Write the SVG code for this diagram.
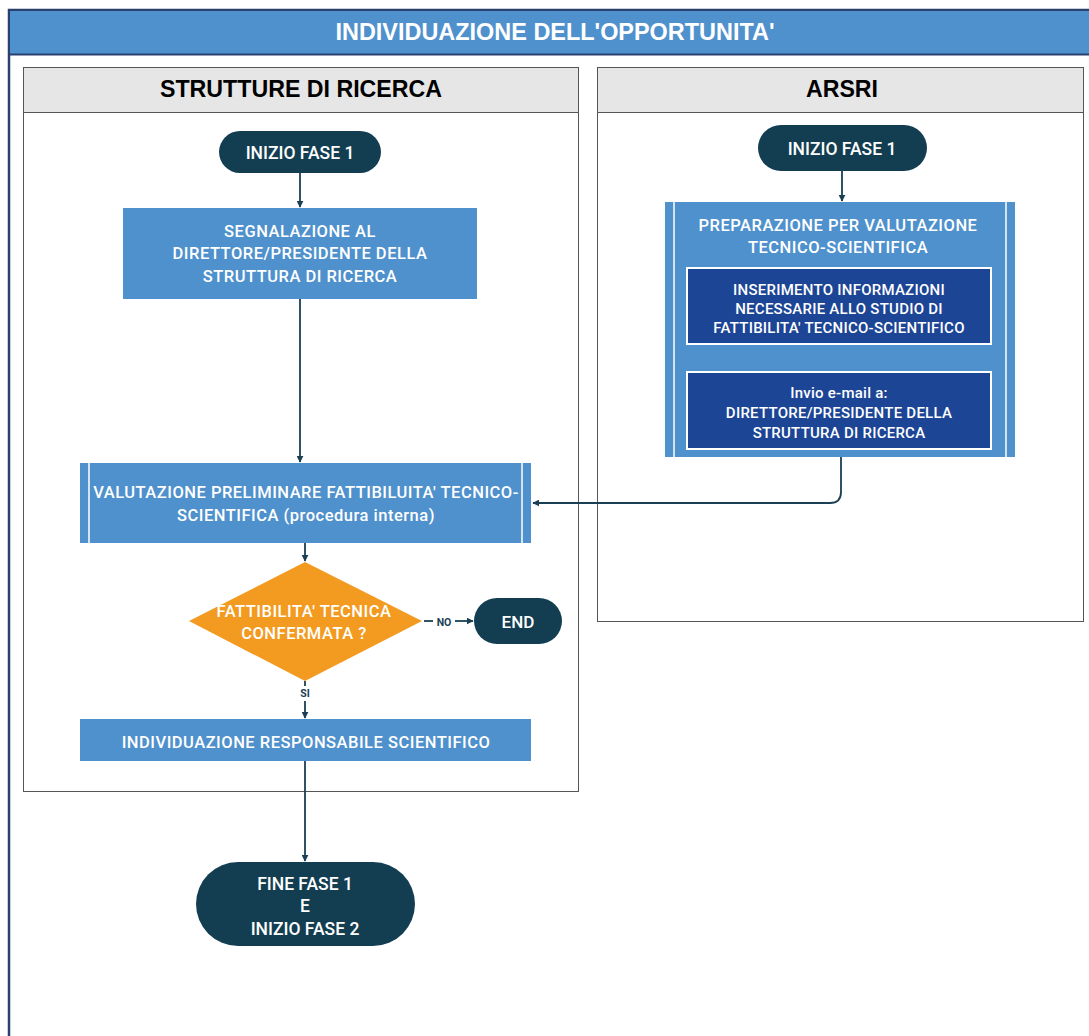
<svg xmlns="http://www.w3.org/2000/svg" width="1089" height="1036" viewBox="0 0 1089 1036">
<style>
.t{font-family:Roboto,"Liberation Sans",sans-serif;font-weight:500;fill:#fff;text-anchor:middle}
.b{font-size:16.5px;letter-spacing:0.5px}
.p{font-size:17.5px}
.i{font-size:15px;letter-spacing:0.25px}
.h{font-family:"Liberation Sans Narrow","Liberation Sans",Arial,sans-serif;font-weight:bold;text-anchor:middle}
.c{fill:none;stroke:#1b3f55;stroke-width:1.8}
.pill{fill:#133e52}
.box{fill:#4f91cc}
.inner{fill:#1c4596;stroke:#fff;stroke-width:2}
.lbl{font-family:Roboto,"Liberation Sans",sans-serif;font-weight:bold;font-size:10.5px;fill:#1b3f55;text-anchor:middle}
</style>
<defs>
<marker id="ah" viewBox="0 0 10 10" refX="9" refY="5" markerWidth="7" markerHeight="7" orient="auto" markerUnits="userSpaceOnUse"><path d="M0,0 L10,5 L0,10 z" fill="#1b3f55"/></marker>
</defs>
<rect width="1089" height="1036" fill="#fff"/>
<g id="frame">
<rect x="9" y="10" width="1090" height="1040" fill="#fff" stroke="#2a4170" stroke-width="2.5"/>
<rect x="10" y="11" width="1085" height="43" fill="#4f91cc"/>
<line x1="9" y1="54.5" x2="1089" y2="54.5" stroke="#2a4170" stroke-width="2"/>
<text class="h" x="555" y="39.5" font-size="23" fill="#fff" textLength="439" lengthAdjust="spacingAndGlyphs">INDIVIDUAZIONE DELL'OPPORTUNITA'</text>
</g>
<g id="lane1">
<rect x="23.5" y="67.5" width="555" height="724" fill="#fff" stroke="#555" stroke-width="1"/>
<rect x="23.5" y="67.5" width="555" height="45" fill="#e6e6e6" stroke="#555" stroke-width="1"/>
<text class="h" x="301" y="97" font-size="23" fill="#000" textLength="282" lengthAdjust="spacingAndGlyphs">STRUTTURE DI RICERCA</text>
</g>
<g id="lane2">
<rect x="597.5" y="67.5" width="486" height="554" fill="#fff" stroke="#555" stroke-width="1"/>
<rect x="597.5" y="67.5" width="486" height="45" fill="#e6e6e6" stroke="#555" stroke-width="1"/>
<text class="h" x="842" y="97" font-size="23" fill="#000" textLength="72" lengthAdjust="spacingAndGlyphs">ARSRI</text>
</g>
<g id="connectors">
<line class="c" x1="300" y1="173" x2="300" y2="207" marker-end="url(#ah)"/>
<line class="c" x1="300" y1="299" x2="300" y2="462" marker-end="url(#ah)"/>
<line class="c" x1="305" y1="543" x2="305" y2="561" marker-end="url(#ah)"/>
<line class="c" x1="424" y1="621" x2="433" y2="621"/>
<line class="c" x1="455" y1="621" x2="473" y2="621" marker-end="url(#ah)"/>
<text class="lbl" x="444" y="625.5">NO</text>
<line class="c" x1="305" y1="681" x2="305" y2="686"/>
<line class="c" x1="305" y1="701" x2="305" y2="718" marker-end="url(#ah)"/>
<text class="lbl" x="305" y="697">SI</text>
<line class="c" x1="305" y1="761" x2="305" y2="861" marker-end="url(#ah)"/>
<line class="c" x1="842" y1="171" x2="842" y2="201" marker-end="url(#ah)"/>
<line class="c" x1="839" y1="345" x2="839" y2="370" marker-end="url(#ah)"/>
<path class="c" d="M841,457 L841,492 Q841,503 830,503 L533,503" marker-end="url(#ah)"/>
</g>
<g id="start1">
<rect class="pill" x="219" y="131" width="162" height="42" rx="21"/>
<text class="t p" x="300" y="159">INIZIO FASE 1</text>
</g>
<g id="segnalazione">
<rect class="box" x="123" y="208" width="354" height="91"/>
<text class="t b" x="300" y="237">SEGNALAZIONE AL</text>
<text class="t b" x="300" y="259">DIRETTORE/PRESIDENTE DELLA</text>
<text class="t b" x="300" y="282">STRUTTURA DI RICERCA</text>
</g>
<g id="valutazione">
<rect class="box" x="80" y="463" width="451" height="80"/>
<line x1="89" y1="463" x2="89" y2="543" stroke="#fff" stroke-width="1.5"/>
<line x1="522" y1="463" x2="522" y2="543" stroke="#fff" stroke-width="1.5"/>
<text class="t b" x="306" y="498">VALUTAZIONE PRELIMINARE FATTIBILUITA' TECNICO-</text>
<text class="t b" x="306" y="521">SCIENTIFICA (procedura interna)</text>
</g>
<g id="decisione">
<polygon points="305,562 422,621 305,681 189,621" fill="#f29b20"/>
<text class="t b" x="304" y="617">FATTIBILITA' TECNICA</text>
<text class="t b" x="304" y="639">CONFERMATA ?</text>
</g>
<g id="end">
<rect class="pill" x="474" y="598" width="88" height="46" rx="23"/>
<text class="t" x="518" y="628" font-size="17">END</text>
</g>
<g id="individuazione">
<rect class="box" x="80" y="719" width="451" height="42"/>
<text class="t b" x="306" y="748">INDIVIDUAZIONE RESPONSABILE SCIENTIFICO</text>
</g>
<g id="fine">
<rect class="pill" x="196" y="862" width="219" height="84" rx="42"/>
<text class="t p" x="305" y="890">FINE FASE 1</text>
<text class="t p" x="305" y="912">E</text>
<text class="t p" x="305" y="935">INIZIO FASE 2</text>
</g>
<g id="start2">
<rect class="pill" x="758" y="125" width="169" height="46" rx="23"/>
<text class="t p" x="842" y="155">INIZIO FASE 1</text>
</g>
<g id="preparazione">
<rect class="box" x="665" y="202" width="350" height="255"/>
<line x1="674" y1="202" x2="674" y2="457" stroke="#fff" stroke-width="1.5"/>
<line x1="1006" y1="202" x2="1006" y2="457" stroke="#fff" stroke-width="1.5"/>
<text class="t b" x="838" y="231">PREPARAZIONE PER VALUTAZIONE</text>
<text class="t b" x="838" y="253">TECNICO-SCIENTIFICA</text>
</g>
<g id="inserimento">
<rect class="inner" x="687" y="268" width="304" height="76"/>
<text class="t i" x="839" y="295">INSERIMENTO INFORMAZIONI</text>
<text class="t i" x="839" y="314">NECESSARIE ALLO STUDIO DI</text>
<text class="t i" x="839" y="333">FATTIBILITA' TECNICO-SCIENTIFICO</text>
</g>
<g id="invio">
<rect class="inner" x="687" y="372" width="304" height="77"/>
<text class="t i" x="839" y="398">Invio e-mail a:</text>
<text class="t i" x="839" y="418">DIRETTORE/PRESIDENTE DELLA</text>
<text class="t i" x="839" y="438">STRUTTURA DI RICERCA</text>
</g>
</svg>
